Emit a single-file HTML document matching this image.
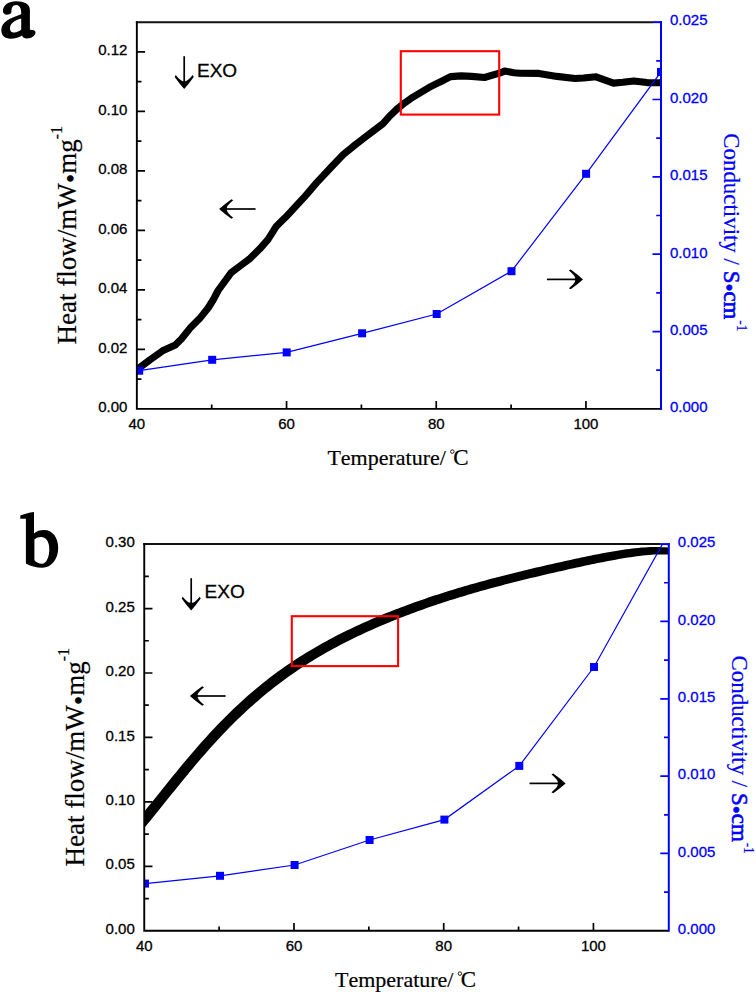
<!DOCTYPE html>
<html><head><meta charset="utf-8"><style>
html,body{margin:0;padding:0;background:#fff;}
svg{display:block;}
.tk{font-family:"Liberation Sans",sans-serif;font-size:15px;stroke:#000;stroke-width:0.3px;}
.tkb{font-family:"Liberation Sans",sans-serif;font-size:15px;fill:#00f;stroke:#00f;stroke-width:0.3px;}
.exo{font-family:"Liberation Sans",sans-serif;font-size:19px;stroke:#000;stroke-width:0.3px;}
.ser{font-family:"Liberation Serif",serif;font-kerning:none;font-feature-settings:"kern" 0;stroke:#000;stroke-width:0.2px;}
.serb{fill:#00f;stroke:#00f;}
</style></head><body>
<svg width="756" height="994" viewBox="0 0 756 994">
<rect width="756" height="994" fill="#fff"/>
<clipPath id="ca"><rect x="136.85" y="22.15" width="524.15" height="386.75"/></clipPath>
<g clip-path="url(#ca)"><polyline points="136,369 139.3,367.8 149.9,359.8 162.6,350.8 175.3,345 181.6,338.7 190.1,328.1 199.6,318.6 208.1,308 213.4,299.5 218.1,290.5 231.2,272.6 240.7,265.5 250.2,258.3 259.8,248.8 268.1,239.3 276.4,226.2 282.4,220.2 287.6,215.2 303.8,197.7 316.5,182.9 332.3,166 343.3,154.5 353.2,146.4 363.1,138.8 373.1,131.2 383,123.6 389,116.8 396.9,109.1 404.8,102.8 412.8,97.2 420.7,92.5 428.7,87.7 436.6,83.7 443.7,80.2 450.6,76.6 461.2,75.9 471.7,76.4 484.4,77.5 499.3,73.2 504.6,71.1 514,72.7 520,73.2 539,73.4 557,76.4 575,78.5 583.5,78 596,76.8 613.5,83.1 622.8,82.3 633.9,80.9 646.9,82.6 664,82.8" fill="none" stroke="#000" stroke-width="7.1" stroke-linejoin="round" stroke-linecap="butt"/>
<polyline points="139.2,370.7 212.2,359.8 286.7,352.4 362.1,333.3 436.7,314 511.5,271.2 586.1,173.8 661,71.9" fill="none" stroke="#0000ff" stroke-width="1.2"/>
<rect x="135.2" y="366.7" width="8" height="8" fill="#0000ff"/>
<rect x="208.2" y="355.8" width="8" height="8" fill="#0000ff"/>
<rect x="282.7" y="348.4" width="8" height="8" fill="#0000ff"/>
<rect x="358.1" y="329.3" width="8" height="8" fill="#0000ff"/>
<rect x="432.7" y="310" width="8" height="8" fill="#0000ff"/>
<rect x="507.5" y="267.2" width="8" height="8" fill="#0000ff"/>
<rect x="582.1" y="169.8" width="8" height="8" fill="#0000ff"/>
<rect x="657" y="67.9" width="8" height="8" fill="#0000ff"/>
</g>
<rect x="400.8" y="51.2" width="98.4" height="63.4" fill="none" stroke="#ff0000" stroke-width="2.1"/>
<path d="M135.85 22.15H653" stroke="#111" stroke-width="2" fill="none"/>
<path d="M653 22.15H662" stroke="#0000ff" stroke-width="2" fill="none"/>
<path d="M136.85 21.15V408.9H661" stroke="#000" stroke-width="1.9" fill="none"/>
<path d="M136.85 349.4h8.2 M136.85 289.9h8.2 M136.85 230.4h8.2 M136.85 170.9h8.2 M136.85 111.4h8.2 M136.85 51.9h8.2 M136.85 379.15h4.6 M136.85 319.65h4.6 M136.85 260.15h4.6 M136.85 200.65h4.6 M136.85 141.15h4.6 M136.85 81.65h4.6 M286.55 408.9v-7.8 M436.25 408.9v-7.8 M585.95 408.9v-7.8 M211.7 408.9v-4.4 M361.4 408.9v-4.4 M511.1 408.9v-4.4" stroke="#000" stroke-width="1.7" fill="none"/>
<path d="M661 21.15V409.9" stroke="#0000ff" stroke-width="2" fill="none"/>
<path d="M661 331.55h-8.5 M661 254.2h-8.5 M661 176.85h-8.5 M661 99.5h-8.5 M661 370.22h-4.8 M661 292.88h-4.8 M661 215.52h-4.8 M661 138.17h-4.8 M661 60.82h-4.8" stroke="#0000ff" stroke-width="1.7" fill="none"/>
<text x="127.35" y="412.2" class="tk" text-anchor="end">0.00</text>
<text x="127.35" y="352.7" class="tk" text-anchor="end">0.02</text>
<text x="127.35" y="293.2" class="tk" text-anchor="end">0.04</text>
<text x="127.35" y="233.7" class="tk" text-anchor="end">0.06</text>
<text x="127.35" y="174.2" class="tk" text-anchor="end">0.08</text>
<text x="127.35" y="114.7" class="tk" text-anchor="end">0.10</text>
<text x="127.35" y="55.2" class="tk" text-anchor="end">0.12</text>
<text x="136.85" y="429.4" class="tk" text-anchor="middle">40</text>
<text x="286.55" y="429.4" class="tk" text-anchor="middle">60</text>
<text x="436.25" y="429.4" class="tk" text-anchor="middle">80</text>
<text x="585.95" y="429.4" class="tk" text-anchor="middle">100</text>
<text x="670" y="412.2" class="tkb">0.000</text>
<text x="670" y="334.85" class="tkb">0.005</text>
<text x="670" y="257.5" class="tkb">0.010</text>
<text x="670" y="180.15" class="tkb">0.015</text>
<text x="670" y="102.8" class="tkb">0.020</text>
<text x="670" y="25.45" class="tkb">0.025</text>
<clipPath id="cb"><rect x="144.25" y="544.1" width="524.55" height="386.7"/></clipPath>
<g clip-path="url(#cb)"><polygon points="137.3,827.4 137.3,820 140.3,816.4 143.3,812.75 146.3,809.08 149.3,805.37 152.3,801.65 155.3,797.92 158.3,794.18 161.3,790.44 164.3,786.71 167.3,782.98 170.3,779.27 173.3,775.57 176.3,771.89 179.3,768.24 182.3,764.61 185.3,761.02 188.3,757.45 191.3,753.93 194.3,750.44 197.3,746.98 200.3,743.57 203.3,740.21 206.3,736.88 209.3,733.6 212.3,730.37 215.3,727.18 218.3,724.04 221.3,720.95 224.3,717.91 227.3,714.92 230.3,711.97 233.3,709.08 236.3,706.23 239.3,703.44 242.3,700.69 245.3,697.99 248.3,695.34 251.3,692.74 254.3,690.18 257.3,687.67 260.3,685.21 263.3,682.79 266.3,680.42 269.3,678.09 272.3,675.8 275.3,673.56 278.3,671.36 281.3,669.2 284.3,667.08 287.3,665 290.3,662.96 293.3,660.96 296.3,658.99 299.3,657.06 302.3,655.16 305.3,653.3 308.3,651.47 311.3,649.68 314.3,647.91 317.3,646.18 320.3,644.47 323.3,642.8 326.3,641.15 329.3,639.53 332.3,637.94 335.3,636.37 338.3,634.83 341.3,633.31 344.3,631.82 347.3,630.35 350.3,628.9 353.3,627.48 356.3,626.08 359.3,624.69 362.3,623.33 365.3,621.99 368.3,620.67 371.3,619.36 374.3,618.07 377.3,616.81 380.3,615.55 383.3,614.32 386.3,613.1 389.3,611.9 392.3,610.72 395.3,609.55 398.3,608.39 401.3,607.25 404.3,606.13 407.3,605.02 410.3,603.92 413.3,602.84 416.3,601.77 419.3,600.71 422.3,599.67 425.3,598.64 428.3,597.62 431.3,596.61 434.3,595.62 437.3,594.64 440.3,593.67 443.3,592.71 446.3,591.76 449.3,590.83 452.3,589.9 455.3,588.99 458.3,588.09 461.3,587.19 464.3,586.31 467.3,585.44 470.3,584.57 473.3,583.72 476.3,582.88 479.3,582.04 482.3,581.22 485.3,580.4 488.3,579.59 491.3,578.79 494.3,578 497.3,577.21 500.3,576.44 503.3,575.67 506.3,574.9 509.3,574.15 512.3,573.4 515.3,572.66 518.3,571.92 521.3,571.19 524.3,570.46 527.3,569.74 530.3,569.03 533.3,568.32 536.3,567.61 539.3,566.91 542.3,566.22 545.3,565.53 548.3,564.84 551.3,564.16 554.3,563.48 557.3,562.8 560.3,562.14 563.3,561.47 566.3,560.81 569.3,560.15 572.3,559.5 575.3,558.86 578.3,558.21 581.3,557.58 584.3,556.95 587.3,556.33 590.3,555.72 593.3,555.11 596.3,554.51 599.3,553.93 602.3,553.35 605.3,552.79 608.3,552.24 611.3,551.71 614.3,551.19 617.3,550.69 620.3,550.21 623.3,549.76 626.3,549.32 629.3,548.92 632.3,548.54 635.3,548.2 638.3,547.89 641.3,547.62 644.3,547.4 647.3,547.21 650.3,547.08 653.3,547 656.3,546.98 659.3,547.03 662.3,547.14 665.3,547.32 668.3,547.59 675.7,547.59 675.7,554.99 675.7,554.99 672.7,554.72 669.7,554.54 666.7,554.43 663.7,554.38 660.7,554.4 657.7,554.48 654.7,554.61 651.7,554.8 648.7,555.02 645.7,555.29 642.7,555.6 639.7,555.94 636.7,556.32 633.7,556.72 630.7,557.16 627.7,557.61 624.7,558.09 621.7,558.59 618.7,559.11 615.7,559.64 612.7,560.19 609.7,560.75 606.7,561.33 603.7,561.91 600.7,562.51 597.7,563.12 594.7,563.73 591.7,564.35 588.7,564.98 585.7,565.61 582.7,566.26 579.7,566.9 576.7,567.55 573.7,568.21 570.7,568.87 567.7,569.54 564.7,570.2 561.7,570.88 558.7,571.56 555.7,572.24 552.7,572.93 549.7,573.62 546.7,574.31 543.7,575.01 540.7,575.72 537.7,576.43 534.7,577.14 531.7,577.86 528.7,578.59 525.7,579.32 522.7,580.06 519.7,580.8 516.7,581.55 513.7,582.3 510.7,583.07 507.7,583.84 504.7,584.61 501.7,585.4 498.7,586.19 495.7,586.99 492.7,587.8 489.7,588.62 486.7,589.44 483.7,590.28 480.7,591.12 477.7,591.97 474.7,592.84 471.7,593.71 468.7,594.59 465.7,595.49 462.7,596.39 459.7,597.3 456.7,598.23 453.7,599.16 450.7,600.11 447.7,601.07 444.7,602.04 441.7,603.02 438.7,604.01 435.7,605.02 432.7,606.04 429.7,607.07 426.7,608.11 423.7,609.17 420.7,610.24 417.7,611.32 414.7,612.42 411.7,613.53 408.7,614.65 405.7,615.79 402.7,616.95 399.7,618.12 396.7,619.3 393.7,620.5 390.7,621.72 387.7,622.95 384.7,624.21 381.7,625.47 378.7,626.76 375.7,628.07 372.7,629.39 369.7,630.73 366.7,632.09 363.7,633.48 360.7,634.88 357.7,636.3 354.7,637.75 351.7,639.22 348.7,640.71 345.7,642.23 342.7,643.77 339.7,645.34 336.7,646.93 333.7,648.55 330.7,650.2 327.7,651.87 324.7,653.58 321.7,655.31 318.7,657.08 315.7,658.87 312.7,660.7 309.7,662.56 306.7,664.46 303.7,666.39 300.7,668.36 297.7,670.36 294.7,672.4 291.7,674.48 288.7,676.6 285.7,678.76 282.7,680.96 279.7,683.2 276.7,685.49 273.7,687.82 270.7,690.19 267.7,692.61 264.7,695.07 261.7,697.58 258.7,700.14 255.7,702.74 252.7,705.39 249.7,708.09 246.7,710.84 243.7,713.63 240.7,716.48 237.7,719.37 234.7,722.32 231.7,725.31 228.7,728.35 225.7,731.44 222.7,734.58 219.7,737.77 216.7,741 213.7,744.28 210.7,747.61 207.7,750.97 204.7,754.38 201.7,757.84 198.7,761.33 195.7,764.85 192.7,768.42 189.7,772.01 186.7,775.64 183.7,779.29 180.7,782.97 177.7,786.67 174.7,790.38 171.7,794.11 168.7,797.84 165.7,801.58 162.7,805.32 159.7,809.05 156.7,812.77 153.7,816.48 150.7,820.15 147.7,823.8 144.7,827.4" fill="#000"/>
<polyline points="145,883.6 220,875.8 294.6,865 369.6,840 444.4,819.6 519.3,765.9 594,667 668.5,533.3" fill="none" stroke="#0000ff" stroke-width="1.2"/>
<rect x="141" y="879.6" width="8" height="8" fill="#0000ff"/>
<rect x="216" y="871.8" width="8" height="8" fill="#0000ff"/>
<rect x="290.6" y="861" width="8" height="8" fill="#0000ff"/>
<rect x="365.6" y="836" width="8" height="8" fill="#0000ff"/>
<rect x="440.4" y="815.6" width="8" height="8" fill="#0000ff"/>
<rect x="515.3" y="761.9" width="8" height="8" fill="#0000ff"/>
<rect x="590" y="663" width="8" height="8" fill="#0000ff"/>
<rect x="664.5" y="529.3" width="8" height="8" fill="#0000ff"/>
</g>
<rect x="291.8" y="616.2" width="106.3" height="49.9" fill="none" stroke="#ff0000" stroke-width="2.1"/>
<path d="M143.25 544.1H660.8" stroke="#111" stroke-width="2" fill="none"/>
<path d="M660.8 544.1H669.8" stroke="#0000ff" stroke-width="2" fill="none"/>
<path d="M144.25 543.1V930.8H668.8" stroke="#000" stroke-width="1.9" fill="none"/>
<path d="M144.25 866.35h8.2 M144.25 801.9h8.2 M144.25 737.45h8.2 M144.25 673h8.2 M144.25 608.55h8.2 M144.25 898.57h4.6 M144.25 834.12h4.6 M144.25 769.67h4.6 M144.25 705.22h4.6 M144.25 640.77h4.6 M144.25 576.33h4.6 M293.98 930.8v-7.8 M443.71 930.8v-7.8 M593.44 930.8v-7.8 M219.11 930.8v-4.4 M368.84 930.8v-4.4 M518.57 930.8v-4.4" stroke="#000" stroke-width="1.7" fill="none"/>
<path d="M668.8 543.1V931.8" stroke="#0000ff" stroke-width="2" fill="none"/>
<path d="M668.8 853.46h-8.5 M668.8 776.12h-8.5 M668.8 698.78h-8.5 M668.8 621.44h-8.5 M668.8 892.13h-4.8 M668.8 814.79h-4.8 M668.8 737.45h-4.8 M668.8 660.11h-4.8 M668.8 582.77h-4.8" stroke="#0000ff" stroke-width="1.7" fill="none"/>
<text x="134.75" y="933.9" class="tk" text-anchor="end">0.00</text>
<text x="134.75" y="869.45" class="tk" text-anchor="end">0.05</text>
<text x="134.75" y="805" class="tk" text-anchor="end">0.10</text>
<text x="134.75" y="740.55" class="tk" text-anchor="end">0.15</text>
<text x="134.75" y="676.1" class="tk" text-anchor="end">0.20</text>
<text x="134.75" y="611.65" class="tk" text-anchor="end">0.25</text>
<text x="134.75" y="547.2" class="tk" text-anchor="end">0.30</text>
<text x="144.25" y="951.3" class="tk" text-anchor="middle">40</text>
<text x="293.98" y="951.3" class="tk" text-anchor="middle">60</text>
<text x="443.71" y="951.3" class="tk" text-anchor="middle">80</text>
<text x="593.44" y="951.3" class="tk" text-anchor="middle">100</text>
<text x="677.8" y="933.9" class="tkb">0.000</text>
<text x="677.8" y="856.56" class="tkb">0.005</text>
<text x="677.8" y="779.22" class="tkb">0.010</text>
<text x="677.8" y="701.88" class="tkb">0.015</text>
<text x="677.8" y="624.54" class="tkb">0.020</text>
<text x="677.8" y="547.2" class="tkb">0.025</text>
<path d="M184.2 56.2V82.9" stroke="#000" stroke-width="1.7" fill="none"/><path d="M184.2 88.9 Q179.7 83.9 174.7 76.9 L175.7 75.1 Q181.6 82.4 184.2 80.9 Q186.8 82.4 192.7 75.1 L193.7 76.9 Q188.7 83.9 184.2 88.9Z" fill="#000"/>
<path d="M191.2 578.2V604.5" stroke="#000" stroke-width="1.7" fill="none"/><path d="M191.2 610.5 Q186.7 605.5 181.7 598.5 L182.7 596.7 Q188.6 604 191.2 602.5 Q193.8 604 199.7 596.7 L200.7 598.5 Q195.7 605.5 191.2 610.5Z" fill="#000"/>
<path d="M255.6 209H225.1" stroke="#000" stroke-width="1.7" fill="none"/><path d="M219.1 209 Q224.1 204.5 231.4 199.2 L233.2 200.2 Q225.6 206.4 227.1 209 Q225.6 211.6 233.2 217.8 L231.4 218.8 Q224.1 213.5 219.1 209Z" fill="#000"/>
<path d="M546.9 279.4H577" stroke="#000" stroke-width="1.7" fill="none"/><path d="M583 279.4 Q578 274.9 570.7 269.6 L568.9 270.6 Q576.5 276.8 575 279.4 Q576.5 282 568.9 288.2 L570.7 289.2 Q578 283.9 583 279.4Z" fill="#000"/>
<path d="M225.6 696H195.9" stroke="#000" stroke-width="1.7" fill="none"/><path d="M189.9 696 Q194.9 691.5 202.2 686.2 L204 687.2 Q196.4 693.4 197.9 696 Q196.4 698.6 204 704.8 L202.2 705.8 Q194.9 700.5 189.9 696Z" fill="#000"/>
<path d="M529.5 783.4H559.6" stroke="#000" stroke-width="1.7" fill="none"/><path d="M565.6 783.4 Q560.6 778.9 553.3 773.6 L551.5 774.6 Q559.1 780.8 557.6 783.4 Q559.1 786 551.5 792.2 L553.3 793.2 Q560.6 787.9 565.6 783.4Z" fill="#000"/>
<text x="197" y="76.7" class="exo">EXO</text>
<text x="204.6" y="598.4" class="exo">EXO</text>
<path d="M2.9 11 C2.9 5 9 1.3 16 1.3 C24 1.3 29.9 4 29.9 10 L29.9 29.8 C32.5 29.8 35.5 30.5 35.5 32.3 C35.5 35.5 32 38.5 27 38.5 C24.5 38.5 22.5 37.5 22 35.5 C19.5 37.5 15 38.7 10.5 38.7 C5 38.7 1.3 35.5 1.3 30 C1.3 22 10 18 21.2 14.3 L21.2 12.5 C21.2 7.5 19 5 16 5 C12.5 5 11.4 8 11.4 12 C11.4 13.8 9 14.7 7 14.7 C4.5 14.7 2.9 13 2.9 11 Z M21.2 18.5 C14 20.5 10 23.5 10 28.5 C10 31 11.5 32.5 13.5 32.5 C17 32.5 21.2 30.5 21.2 29 Z" fill="#000" fill-rule="evenodd"/>
<path d="M20.3 515.6 C24 514.2 29 512.5 34 512 L34 533.5 C36.5 531 40 530 44 530 C52.5 530 58.2 537.5 58.2 548 C58.2 559 51.5 567.7 42.5 567.7 C36 567.7 30 566 25.9 563.5 L25.9 518.8 L20.3 518.8 Z M34.4 539.5 C36 537.8 38.5 537 41 537 C46.5 537 49.3 542 49.3 549 C49.3 557 46.5 563.7 42 563.7 C38.5 563.7 35.5 562 34.4 560 Z" fill="#000" fill-rule="evenodd"/>
<text x="327.4" y="465" class="ser" style="font-size:22px">Temperature/</text><circle cx="452.3" cy="451.6" r="1.75" fill="none" stroke="#000" stroke-width="0.9"/><text x="453.2" y="465" class="ser" style="font-size:23px">C</text>
<text x="335" y="987" class="ser" style="font-size:22px">Temperature/</text><circle cx="459.9" cy="973.6" r="1.75" fill="none" stroke="#000" stroke-width="0.9"/><text x="460.8" y="987" class="ser" style="font-size:23px">C</text>
<text transform="translate(76.2 344.5) rotate(-90)" x="0" y="0" class="ser" style="font-size:27px">Heat flow/mW<tspan dy="4">•</tspan><tspan dy="-4">mg</tspan><tspan style="font-size:16px" dy="-14.4">-1</tspan></text>
<text transform="translate(83.7 866.5) rotate(-90)" x="0" y="0" class="ser" style="font-size:27px">Heat flow/mW<tspan dy="4">•</tspan><tspan dy="-4">mg</tspan><tspan style="font-size:16px" dy="-14.4">-1</tspan></text>
<text transform="translate(724 133.2) rotate(90) scale(0.955 1)" x="0" y="0" class="ser serb" style="font-size:24px">Conductivity / <tspan stroke="#0000ff" stroke-width="0.6">S<tspan dy="3">•</tspan><tspan dy="-3">cm</tspan></tspan><tspan style="font-size:14px" dx="1" dy="-12.6">-1</tspan></text>
<text transform="translate(731.5 655.5) rotate(90) scale(0.955 1)" x="0" y="0" class="ser serb" style="font-size:24px">Conductivity / <tspan stroke="#0000ff" stroke-width="0.6">S<tspan dy="3">•</tspan><tspan dy="-3">cm</tspan></tspan><tspan style="font-size:14px" dx="1" dy="-12.6">-1</tspan></text>
</svg>
</body></html>
